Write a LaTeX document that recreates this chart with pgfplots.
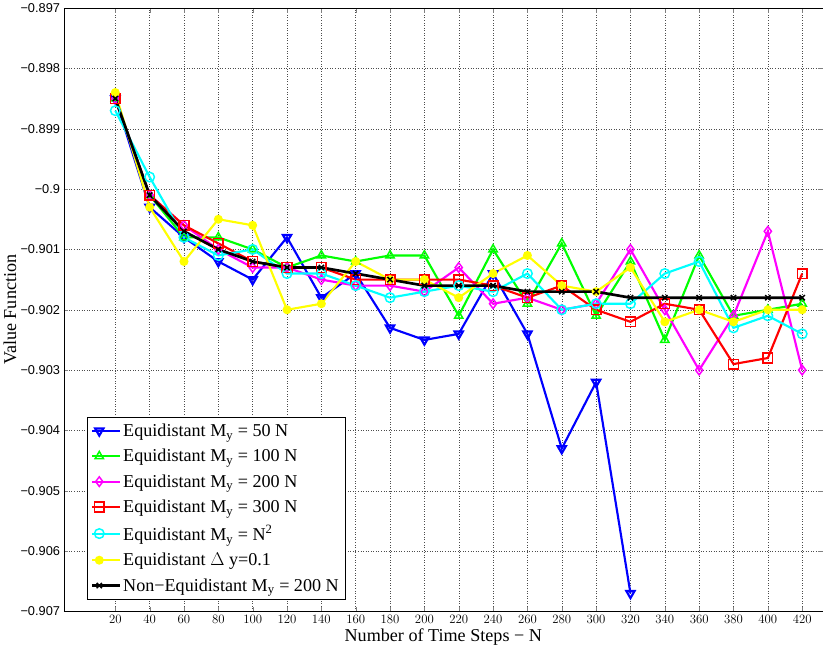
\documentclass[border=0pt]{standalone}
\usepackage{pgfplots}
\pgfplotsset{compat=1.18}
\usepackage{fontspec}
\setmainfont{Liberation Serif}
\newfontfamily\tickfont{Liberation Sans}
\definecolor{cB}{rgb}{0,0,1}
\definecolor{cG}{rgb}{0,1,0}
\definecolor{cM}{rgb}{1,0,1}
\definecolor{cR}{rgb}{1,0,0}
\definecolor{cC}{rgb}{0,1,1}
\definecolor{cY}{rgb}{1,1,0}
\begin{document}
\begin{tikzpicture}
\begin{axis}[
  width=712pt, height=566pt, scale only axis,
  xmin=-10, xmax=432, ymin=-0.907, ymax=-0.897,
  xtick={20,40,...,420}, ytick={-0.907,-0.906,...,-0.897},
  yticklabels={−0.907,−0.906,−0.905,−0.904,−0.903,−0.902,−0.901,−0.9,−0.899,−0.898,−0.897},
  ticklabel style={font=\tickfont\fontsize{12}{13}\selectfont},
  grid=major, major grid style={black!70,dotted},
  xlabel={Number of Time Steps − N}, ylabel={Value Function},
  label style={font=\fontsize{17}{18}\selectfont},
  xlabel style={yshift=2pt},
  ylabel style={yshift=-3pt},
  tick align=inside,
  legend style={at={(0.03,0.02)},anchor=south west,font=\fontsize{17}{21}\selectfont,line width=0.6pt,draw=black,row sep=6.5pt,inner sep=4pt},
  legend cell align=left,
  legend image code/.code={\draw[#1] (0cm,0cm) -- (0.45cm,0cm) plot coordinates {(0.225cm,0cm)} -- (0.9cm,0cm);},
  every axis plot/.append style={line width=2pt,mark size=4.5pt,mark options={solid,line width=1.4pt}},
]
\addplot[cB,mark=triangle,mark options={rotate=180}] coordinates {(20,-0.8985)(40,-0.9003)(60,-0.9008)(80,-0.9012)(100,-0.9015)(120,-0.9008)(140,-0.9018)(160,-0.9014)(180,-0.9023)(200,-0.9025)(220,-0.9024)(240,-0.9014)(260,-0.9024)(280,-0.9043)(300,-0.9032)(320,-0.9067)};
\addlegendentry{Equidistant M\textsubscript{y} = 50 N}
\addplot[cG,mark=triangle] coordinates {(20,-0.8985)(40,-0.9001)(60,-0.9008)(80,-0.9008)(100,-0.9010)(120,-0.9013)(140,-0.9011)(160,-0.9012)(180,-0.9011)(200,-0.9011)(220,-0.9021)(240,-0.9010)(260,-0.9019)(280,-0.9009)(300,-0.9021)(320,-0.9012)(340,-0.9025)(360,-0.9011)(380,-0.9021)(400,-0.9020)(420,-0.9019)};
\addlegendentry{Equidistant M\textsubscript{y} = 100 N}
\addplot[cM,mark=diamond] coordinates {(20,-0.8985)(40,-0.9001)(60,-0.9006)(80,-0.9010)(100,-0.9013)(120,-0.9013)(140,-0.9015)(160,-0.9016)(180,-0.9016)(200,-0.9017)(220,-0.9013)(240,-0.9019)(260,-0.9018)(280,-0.9020)(300,-0.9019)(320,-0.9010)(340,-0.9020)(360,-0.9030)(380,-0.9021)(400,-0.9007)(420,-0.9030)};
\addlegendentry{Equidistant M\textsubscript{y} = 200 N}
\addplot[cR,mark=square] coordinates {(20,-0.8985)(40,-0.9001)(60,-0.9006)(80,-0.9009)(100,-0.9012)(120,-0.9013)(140,-0.9013)(160,-0.9015)(180,-0.9015)(200,-0.9015)(220,-0.9015)(240,-0.9016)(260,-0.9018)(280,-0.9016)(300,-0.9020)(320,-0.9022)(340,-0.9019)(360,-0.9020)(380,-0.9029)(400,-0.9028)(420,-0.9014)};
\addlegendentry{Equidistant M\textsubscript{y} = 300 N}
\addplot[cC,mark=o] coordinates {(20,-0.8987)(40,-0.8998)(60,-0.9008)(80,-0.9011)(100,-0.9010)(120,-0.9014)(140,-0.9014)(160,-0.9016)(180,-0.9018)(200,-0.9017)(220,-0.9016)(240,-0.9017)(260,-0.9014)(280,-0.9020)(300,-0.9019)(320,-0.9019)(340,-0.9014)(360,-0.9012)(380,-0.9023)(400,-0.9021)(420,-0.9024)};
\addlegendentry{Equidistant M\textsubscript{y} = N\textsuperscript{2}}
\addplot[cY,mark=*,mark size=3.5pt] coordinates {(20,-0.8984)(40,-0.9003)(60,-0.9012)(80,-0.9005)(100,-0.9006)(120,-0.9020)(140,-0.9019)(160,-0.9012)(180,-0.9015)(200,-0.9015)(220,-0.9018)(240,-0.9014)(260,-0.9011)(280,-0.9016)(300,-0.9017)(320,-0.9013)(340,-0.9022)(360,-0.9020)(380,-0.9022)(400,-0.9020)(420,-0.9020)};
\addlegendentry{Equidistant $\Delta$ y=0.1}
\addplot[black,mark=x,mark size=3.5pt,line width=2.5pt] coordinates {(20,-0.8985)(40,-0.9001)(60,-0.9007)(80,-0.9010)(100,-0.9012)(120,-0.9013)(140,-0.9013)(160,-0.9014)(180,-0.9015)(200,-0.9016)(220,-0.9016)(240,-0.9016)(260,-0.9017)(280,-0.9017)(300,-0.9017)(320,-0.9018)(340,-0.9018)(360,-0.9018)(380,-0.9018)(400,-0.9018)(420,-0.9018)};
\addlegendentry{Non−Equidistant M\textsubscript{y} = 200 N}
\end{axis}
\end{tikzpicture}
\end{document}
